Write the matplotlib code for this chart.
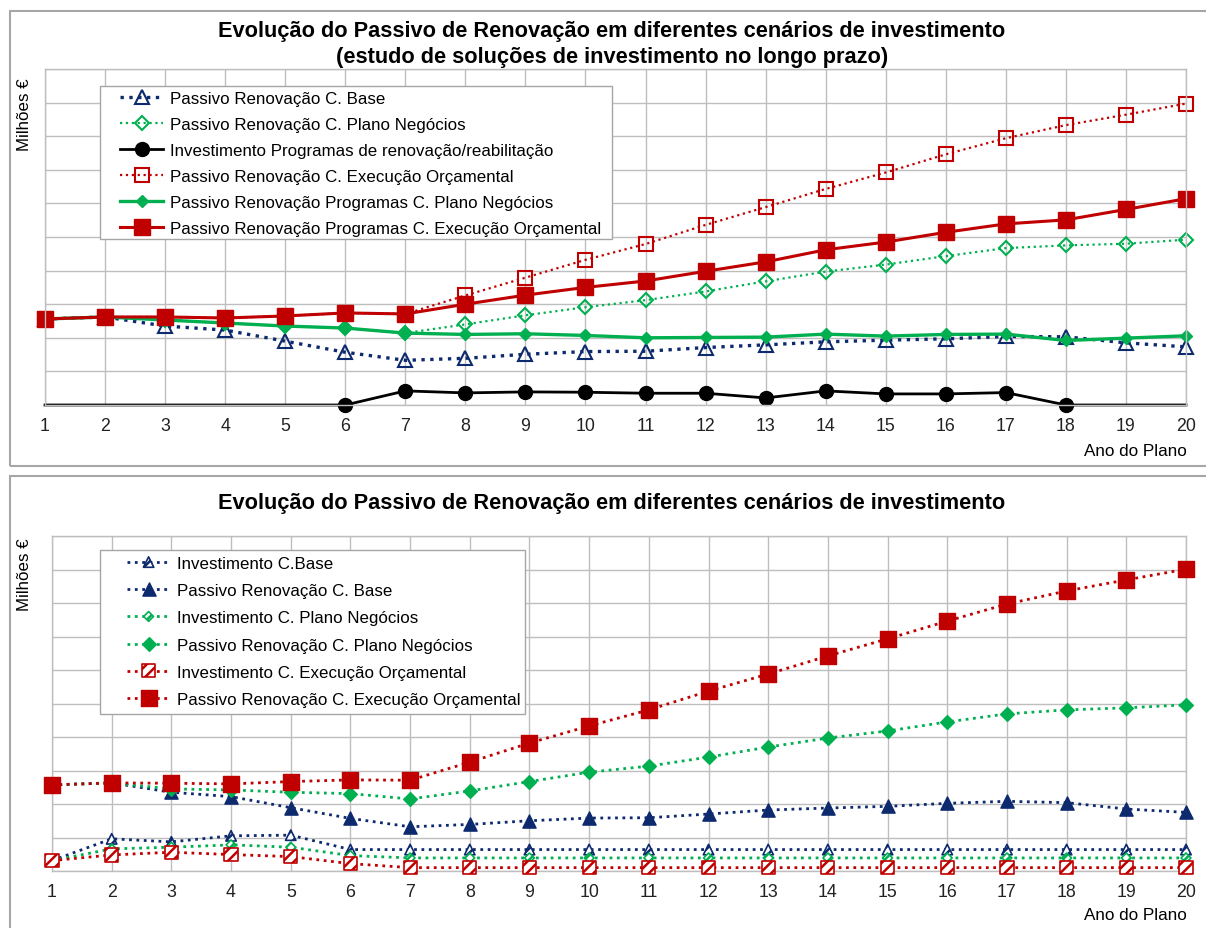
import matplotlib
matplotlib.use("Agg")
import matplotlib.pyplot as plt
from matplotlib.patches import Rectangle

plt.rcParams['font.family'] = ['Liberation Sans', 'DejaVu Sans']
plt.rcParams['hatch.linewidth'] = 1.8

W, H = 1206, 929

anos = list(range(1, 21))

# --- grafico 1: programas de renovacao (longo prazo) ---
passivo_base = [2.56, 2.62, 2.35, 2.23, 1.90, 1.57, 1.33, 1.39, 1.51, 1.59,
                1.60, 1.71, 1.79, 1.88, 1.93, 1.97, 2.04, 2.03, 1.85, 1.73]
passivo_pn = [2.56, 2.62, 2.53, 2.44, 2.35, 2.29, 2.14, 2.40, 2.67, 2.91,
              3.12, 3.38, 3.68, 3.97, 4.18, 4.43, 4.67, 4.75, 4.80, 4.92]
invest_prog = [0, 0, 0, 0, 0, 0, 0.42, 0.36, 0.39, 0.38,
               0.35, 0.35, 0.21, 0.42, 0.33, 0.33, 0.37, 0, 0, 0]
passivo_eo = [2.56, 2.62, 2.62, 2.59, 2.65, 2.74, 2.71, 3.26, 3.79, 4.32,
              4.79, 5.36, 5.89, 6.43, 6.92, 7.46, 7.94, 8.33, 8.64, 8.97]
passivo_prog_pn = [2.56, 2.62, 2.53, 2.44, 2.35, 2.29, 2.14, 2.10, 2.12, 2.07,
                   2.00, 2.01, 2.02, 2.11, 2.05, 2.10, 2.11, 1.92, 1.99, 2.06]
passivo_prog_eo = [2.56, 2.62, 2.62, 2.59, 2.65, 2.74, 2.71, 3.00, 3.27, 3.50,
                   3.69, 3.98, 4.26, 4.62, 4.85, 5.14, 5.39, 5.51, 5.82, 6.14]

# --- grafico 2: cenarios de investimento ---
inv_base = [0.31, 0.96, 0.87, 1.05, 1.07, 0.64, 0.64, 0.64, 0.64, 0.64,
            0.64, 0.64, 0.64, 0.64, 0.64, 0.64, 0.64, 0.64, 0.64, 0.64]
pas_base = [2.57, 2.63, 2.35, 2.22, 1.89, 1.57, 1.32, 1.39, 1.50, 1.58,
            1.59, 1.70, 1.82, 1.88, 1.93, 2.02, 2.08, 2.04, 1.85, 1.75]
inv_pn = [0.31, 0.66, 0.71, 0.78, 0.71, 0.46, 0.39, 0.39, 0.39, 0.39,
          0.39, 0.39, 0.39, 0.39, 0.39, 0.39, 0.39, 0.39, 0.39, 0.39]
pas_pn = [2.57, 2.63, 2.45, 2.42, 2.35, 2.31, 2.15, 2.39, 2.67, 2.95,
          3.13, 3.40, 3.70, 3.97, 4.18, 4.45, 4.69, 4.81, 4.87, 4.96]
inv_eo = [0.31, 0.48, 0.56, 0.49, 0.43, 0.22, 0.10, 0.10, 0.10, 0.10,
          0.10, 0.10, 0.10, 0.10, 0.10, 0.10, 0.10, 0.10, 0.10, 0.10]
pas_eo = [2.57, 2.63, 2.62, 2.60, 2.67, 2.72, 2.71, 3.25, 3.82, 4.33,
          4.81, 5.37, 5.88, 6.42, 6.93, 7.46, 7.97, 8.36, 8.69, 9.01]

NAVY = '#0D2A6E'
GREEN = '#00B050'
RED = '#C00000'
GRID = '#BEBEBE'
FRAME = '#A6A6A6'

TITULO = 'Evolução do Passivo de Renovação em diferentes cenários de investimento'


def fx(px):
    return px / W


def fy(py):
    return 1 - py / H


def axes_px(x0, y0, x1, y1):
    return [fx(x0), fy(y1), fx(x1) - fx(x0), fy(y0) - fy(y1)]


def style_axes(ax):
    ax.set_xlim(1, 20)
    ax.set_ylim(0, 10)
    ax.set_xticks(anos)
    ax.set_yticks(range(0, 11))
    ax.set_yticklabels([])
    ax.tick_params(axis='both', length=0)
    ax.tick_params(axis='x', pad=9, labelsize=12.8, colors='#222222')
    ax.grid(True, color=GRID, lw=1)
    ax.set_axisbelow(True)
    for s in ax.spines.values():
        s.set_color(GRID)
        s.set_linewidth(1)


def legend_box(ax, x0, y0, x1, y1):
    # caixa da legenda desenhada a parte, para controlar as margens
    ax.add_patch(Rectangle((fx(x0), fy(y1)), fx(x1) - fx(x0), fy(y0) - fy(y1),
                           transform=ax.figure.transFigure, fc='white',
                           ec=FRAME, lw=1, zorder=4.5, clip_on=False))


fig = plt.figure(figsize=(W / 100, H / 100), dpi=100)

# moldura de cada grafico
for (x0, y0, x1, y1) in [(10, 12, 1210, 467), (10, 477, 1210, 940)]:
    fig.add_artist(Rectangle((fx(x0), fy(y1)), fx(x1) - fx(x0), fy(y0) - fy(y1),
                             transform=fig.transFigure, fill=False,
                             ec=FRAME, lw=1.5))

# ================= grafico 1 =================
ax1 = fig.add_axes(axes_px(45, 70, 1186, 406))
style_axes(ax1)

ax1.plot(anos, passivo_base, ls=':', lw=2.4, color=NAVY, marker='^', ms=9.5,
         mfc='none', mec=NAVY, mew=1.5, clip_on=False,
         label='Passivo Renovação C. Base')
ax1.plot(anos, passivo_pn, ls=':', lw=1.6, color=GREEN, marker='D', ms=6.8,
         mfc='none', mec=GREEN, mew=1.5, clip_on=False,
         label='Passivo Renovação C. Plano Negócios')
ax1.plot(anos, invest_prog, ls='-', lw=2, color='black', marker='o', ms=10,
         markevery=list(range(5, 18)), clip_on=False,
         label='Investimento Programas de renovação/reabilitação')
ax1.plot(anos, passivo_eo, ls=':', lw=1.6, color=RED, marker='s', ms=10,
         mfc='none', mec=RED, mew=1.5, clip_on=False,
         label='Passivo Renovação C. Execução Orçamental')
ax1.plot(anos, passivo_prog_pn, ls='-', lw=2.4, color=GREEN, marker='D', ms=6.2,
         clip_on=False, label='Passivo Renovação Programas C. Plano Negócios')
ax1.plot(anos, passivo_prog_eo, ls='-', lw=2.2, color=RED, marker='s', ms=11,
         clip_on=False, label='Passivo Renovação Programas C. Execução Orçamental')

legend_box(ax1, 100, 87, 612, 240)
ax1.legend(loc='upper left', bbox_to_anchor=(fx(120), fy(92)),
           bbox_transform=fig.transFigure, fontsize=12.2, frameon=False,
           handlelength=2.55, handletextpad=0.42, labelspacing=0.65,
           borderpad=0, borderaxespad=0)

fig.text(fx(612), fy(32), TITULO,
         ha='center', va='center', fontsize=15.7, fontweight='bold')
fig.text(fx(612), fy(58), '(estudo de soluções de investimento no longo prazo)',
         ha='center', va='center', fontsize=15.7, fontweight='bold')
fig.text(fx(25), fy(78), 'Milhões €', rotation=90, ha='center', va='top', fontsize=12.2)
fig.text(fx(1187), fy(451), 'Ano do Plano', ha='right', va='center', fontsize=12.3)

# ================= grafico 2 =================
ax2 = fig.add_axes(axes_px(52, 537, 1186, 872))
style_axes(ax2)

handles = []
series = [
    (inv_base, NAVY, '^', 7.5, 'Investimento C.Base', True),
    (pas_base, NAVY, '^', 9.5, 'Passivo Renovação C. Base', False),
    (inv_pn, GREEN, 'D', 5.0, 'Investimento C. Plano Negócios', True),
    (pas_pn, GREEN, 'D', 7.0, 'Passivo Renovação C. Plano Negócios', False),
    (inv_eo, RED, 's', 9.5, 'Investimento C. Execução Orçamental', True),
    (pas_eo, RED, 's', 11, 'Passivo Renovação C. Execução Orçamental', False),
]
for vals, cor, mk, ms, nome, tracejado in series:
    linha, = ax2.plot(anos, vals, ls=':', lw=2, color=cor, clip_on=False)
    if tracejado:
        pts = ax2.scatter(anos, vals, marker=mk, s=ms ** 2, facecolor='white',
                          edgecolor=cor, hatch='///', linewidths=1.2,
                          zorder=3, clip_on=False)
    else:
        pts = ax2.scatter(anos, vals, marker=mk, s=ms ** 2, color=cor,
                          zorder=3, clip_on=False)
    handles.append(((linha, pts), nome))

legend_box(ax2, 100, 551, 525, 715)
ax2.legend([h for h, _ in handles], [n for _, n in handles],
           loc='upper left', bbox_to_anchor=(fx(127), fy(557)),
           bbox_transform=fig.transFigure, fontsize=12.2, frameon=False,
           handlelength=2.55, handletextpad=0.42, labelspacing=0.72,
           borderpad=0, borderaxespad=0, scatterpoints=1,
           scatteryoffsets=[0.5])

fig.text(fx(612), fy(503), TITULO,
         ha='center', va='center', fontsize=15.7, fontweight='bold')
fig.text(fx(25), fy(538), 'Milhões €', rotation=90, ha='center', va='top', fontsize=12.2)
fig.text(fx(1187), fy(916), 'Ano do Plano', ha='right', va='center', fontsize=12.3)

fig.savefig('out.png', dpi=100)
